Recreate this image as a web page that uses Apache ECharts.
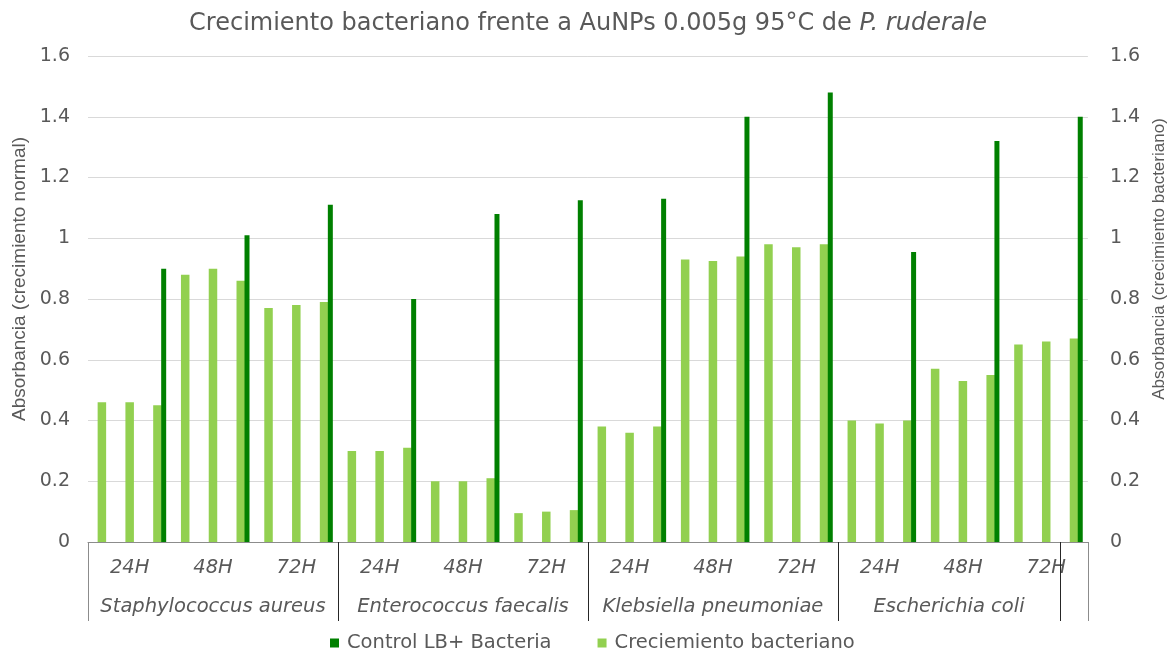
<!DOCTYPE html>
<html>
<head>
<meta charset="utf-8">
<script src="https://cdn.jsdelivr.net/npm/echarts@6/dist/echarts.min.js"></script>
<style>
  html, body { margin: 0; padding: 0; background: #ffffff; }
  #chart { width: 1176px; height: 655px; }
</style>
</head>
<body>
<div id="chart"></div>
<script>
// Organisms, sampling times and replicates per time
const species = ['Staphylococcus aureus', 'Enterococcus faecalis', 'Klebsiella pneumoniae', 'Escherichia coli'];
const times = ['24H', '48H', '72H'];
const replicates = 3;

// Bacterial growth with AuNPs (three replicates per organism and time)
const growthSA = [0.46, 0.46, 0.45, 0.88, 0.90, 0.86, 0.77, 0.78, 0.79];
const growthEF = [0.30, 0.30, 0.31, 0.20, 0.20, 0.21, 0.095, 0.10, 0.105];
const growthKP = [0.38, 0.36, 0.38, 0.93, 0.925, 0.94, 0.98, 0.97, 0.98];
const growthEC = [0.40, 0.39, 0.40, 0.57, 0.53, 0.55, 0.65, 0.66, 0.67];

// Control LB + bacteria (one reading per organism and time)
const controlSA = [0.90, 1.01, 1.11];
const controlEF = [0.80, 1.08, 1.125];
const controlKP = [1.13, 1.40, 1.48];
const controlEC = [0.955, 1.32, 1.40];

// Number of replicate slots covered by each organism cell in the lower label row
const speciesRowSpans = [9, 9, 9, 8];

const controlName = 'Control LB+ Bacteria';
const growthName = 'Creciemiento bacteriano';

// One category slot per replicate
const slots = [];
species.forEach(sp => times.forEach(t => {
  for (let r = 1; r <= replicates; r++) slots.push(sp + ' ' + t + ' #' + r);
}));
const growth = [].concat(growthSA, growthEF, growthKP, growthEC);
const controls = [].concat(controlSA, controlEF, controlKP, controlEC);
// each control reading sits beside the last replicate of its time group
const controlSeries = slots.map((s, i) =>
  (i % replicates === replicates - 1) ? controls[Math.floor(i / replicates)] : null);

// Lower label row: cell boundaries and cell centres in slot units
const speciesBreaks = [];
const speciesCenters = [];
let acc = 0;
speciesRowSpans.forEach(n => { speciesCenters.push(acc + n / 2); acc += n; speciesBreaks.push(acc); });

const textColor = '#595959';
const font = 'DejaVu Sans';

const chart = echarts.init(document.getElementById('chart'), null, { renderer: 'canvas' });
chart.setOption({
  animation: false,
  backgroundColor: '#ffffff',
  title: {
    text: '{n|Crecimiento bacteriano frente a AuNPs 0.005g 95°C de }{i|P. ruderale}',
    left: 'center',
    top: 7,
    textStyle: {
      fontWeight: 'normal',
      rich: {
        n: { fontFamily: font, fontSize: 24, fontWeight: 'normal', color: textColor },
        i: { fontFamily: font, fontSize: 24, fontWeight: 'normal', color: textColor, fontStyle: 'italic' }
      }
    }
  },
  legend: {
    data: [controlName, growthName],
    left: 325,
    top: 628,
    icon: 'rect',
    itemWidth: 9,
    itemHeight: 9,
    itemGap: 46,
    textStyle: { fontFamily: font, fontSize: 19.5, color: textColor, padding: [0, 0, 0, 3] }
  },
  grid: { left: 88, right: 86, top: 56, bottom: 113 },
  xAxis: [
    {
      type: 'category',
      data: slots,
      position: 'bottom',
      axisLine: { show: true, lineStyle: { color: '#8c8c8c', width: 1 } },
      axisTick: { show: false },
      splitLine: { show: false },
      axisLabel: {
        interval: (i) => i % replicates === 1,
        formatter: (v, i) => times[Math.floor(i / replicates) % times.length],
        margin: 16,
        fontFamily: font,
        fontStyle: 'italic',
        fontSize: 19.5,
        color: textColor
      }
    },
    {
      type: 'category',
      data: slots,
      show: false
    },
    {
      type: 'value',
      min: 0,
      max: slots.length,
      position: 'bottom',
      z: 3,
      axisLine: { show: false },
      splitLine: { show: false },
      axisTick: { show: true, customValues: speciesBreaks, length: 79, lineStyle: { color: '#262626', width: 1 } },
      axisLabel: {
        customValues: speciesCenters,
        formatter: (v) => species[speciesCenters.indexOf(v)] || '',
        margin: 55,
        fontFamily: font,
        fontStyle: 'italic',
        fontSize: 19.5,
        color: textColor
      }
    },
    {
      type: 'value',
      min: 0,
      max: slots.length,
      position: 'bottom',
      z: 4,
      axisLine: { show: false },
      splitLine: { show: false },
      axisTick: { show: true, customValues: [0, slots.length], length: 79, lineStyle: { color: '#8c8c8c', width: 1 } },
      axisLabel: { show: false }
    }
  ],
  yAxis: [
    {
      type: 'value',
      position: 'left',
      min: 0,
      max: 1.6,
      interval: 0.2,
      name: 'Absorbancia (crecimiento normal)',
      nameLocation: 'middle',
      nameRotate: 90,
      nameGap: 55,
      nameTextStyle: { fontFamily: 'Liberation Sans', fontSize: 19, color: textColor, padding: [0, 0, 0, 40] },
      axisLine: { show: false },
      axisTick: { show: false },
      splitLine: { show: true, lineStyle: { color: '#d9d9d9', width: 1 } },
      axisLabel: { margin: 18, fontFamily: font, fontSize: 19, color: textColor }
    },
    {
      type: 'value',
      position: 'right',
      min: 0,
      max: 1.6,
      interval: 0.2,
      name: 'Absorbancia (crecimiento bacteriano)',
      nameLocation: 'middle',
      nameRotate: 90,
      nameGap: 58,
      nameTextStyle: { fontFamily: 'Liberation Sans', fontSize: 17, color: textColor, padding: [0, 0, 0, 80] },
      axisLine: { show: false },
      axisTick: { show: false },
      splitLine: { show: false },
      axisLabel: { margin: 22, fontFamily: font, fontSize: 19, color: textColor }
    }
  ],
  series: [
    {
      name: growthName,
      type: 'bar',
      xAxisIndex: 0,
      yAxisIndex: 1,
      data: growth,
      barWidth: 8.5,
      itemStyle: { color: '#92D050' }
    },
    {
      // empty slot that pushes each control bar to the right edge of its replicate
      name: 'spacer',
      type: 'bar',
      xAxisIndex: 1,
      yAxisIndex: 0,
      data: controlSeries.map(() => null),
      barWidth: 12.5,
      barGap: 0,
      silent: true
    },
    {
      name: controlName,
      type: 'bar',
      xAxisIndex: 1,
      yAxisIndex: 0,
      data: controlSeries,
      barWidth: 5,
      barGap: 0,
      z: 3,
      itemStyle: { color: '#008000' }
    }
  ]
});
</script>
</body>
</html>
